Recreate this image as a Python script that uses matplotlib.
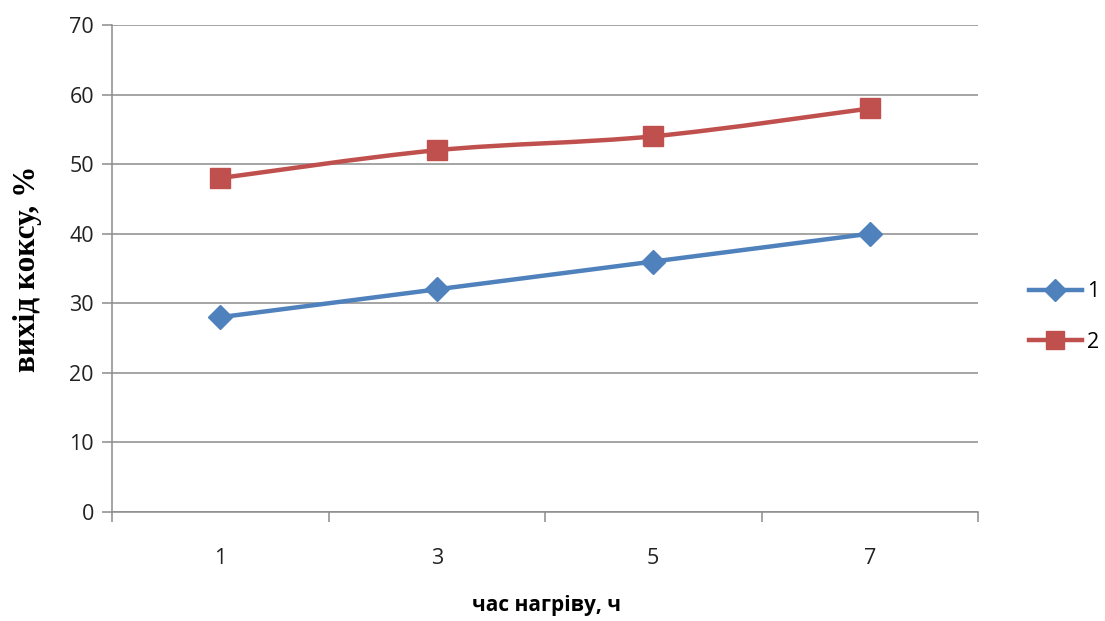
import matplotlib.pyplot as plt
import numpy as np
from matplotlib.path import Path
from matplotlib.patches import PathPatch
from matplotlib.lines import Line2D

categories = ["1", "3", "5", "7"]
series1 = [28, 32, 36, 40]
series2 = [48, 52, 54, 58]
names = ["1", "2"]
colors = ["#4F81BD", "#C0504D"]
markers = ["D", "s"]


def smooth_path(x, y):
    # Excel-like smoothed line: cubic bezier with Catmull-Rom control points
    pts = np.column_stack([x, y]).astype(float)
    verts = [pts[0]]
    codes = [Path.MOVETO]
    n = len(pts)
    for i in range(n - 1):
        p0 = pts[i - 1] if i > 0 else pts[i]
        p1 = pts[i]
        p2 = pts[i + 1]
        p3 = pts[i + 2] if i + 2 < n else pts[i + 1]
        c1 = p1 + (p2 - p0) / 6.0
        c2 = p2 - (p3 - p1) / 6.0
        verts += [c1, c2, p2]
        codes += [Path.CURVE4] * 3
    return Path(verts, codes)


fig = plt.figure(figsize=(11.05, 6.21), dpi=100)
ax = fig.add_axes([112 / 1105, 1 - 512 / 621, (978 - 112) / 1105, (512 - 25) / 621])

x = np.arange(len(categories))
for vals, c, m, name in zip([series1, series2], colors, markers, names):
    ax.add_patch(PathPatch(smooth_path(x, vals), fill=False, edgecolor=c, lw=3.2,
                           capstyle="round", zorder=3))
    ms = 12 if m == "D" else 14
    ax.plot(x, vals, linestyle="none", marker=m, color=c, markersize=ms, zorder=4)

ax.set_xlim(-0.5, len(categories) - 0.5)
ax.set_ylim(0, 70)
ax.set_yticks(range(0, 71, 10))
ax.yaxis.grid(True, color="#8C8C8C", lw=1.1)
ax.set_axisbelow(True)

# category axis: tick marks between categories, labels centred
ax.set_xticks(np.arange(-0.5, len(categories), 1.0))
ax.set_xticklabels([])
ax.set_xticks(x, minor=True)
ax.set_xticklabels(categories, minor=True)
ax.tick_params(axis="x", which="major", length=7, color="#8C8C8C", width=1.1)
ax.tick_params(axis="x", which="minor", length=0, pad=26, labelsize=15.5, labelcolor="#222222")
ax.tick_params(axis="y", length=7, color="#8C8C8C", width=1.1, labelsize=15.5,
               labelcolor="#222222", pad=6)

for s in ["top", "right"]:
    ax.spines[s].set_visible(False)
for s in ["left", "bottom"]:
    ax.spines[s].set_color("#8C8C8C")
    ax.spines[s].set_linewidth(1.1)

for lab in ax.get_xticklabels(minor=True) + ax.get_yticklabels():
    lab.set_family("Open Sans")

fig.text(28 / 1105, 1 - 269 / 621, "вихід коксу, %", rotation=90, ha="center", va="center",
         family="Liberation Serif", fontweight="bold", fontsize=22.5)
fig.text(546 / 1105, 1 - 606 / 621, "час нагріву, ч", ha="center", va="center",
         family="Open Sans", fontweight="bold", fontsize=15)

handles = [Line2D([], [], color=c, lw=3.2, marker=m, markersize=(11 if m == "D" else 13))
           for c, m in zip(colors, markers)]
fig.legend(handles, names, loc="center left", bbox_to_anchor=(1029 / 1105, 1 - 317 / 621),
           frameon=False, handlelength=2.45, labelspacing=1.35,
           handletextpad=0.25, borderpad=0, borderaxespad=0,
           prop={"family": "Open Sans", "size": 15.5})

fig.savefig("out.png", dpi=100)
